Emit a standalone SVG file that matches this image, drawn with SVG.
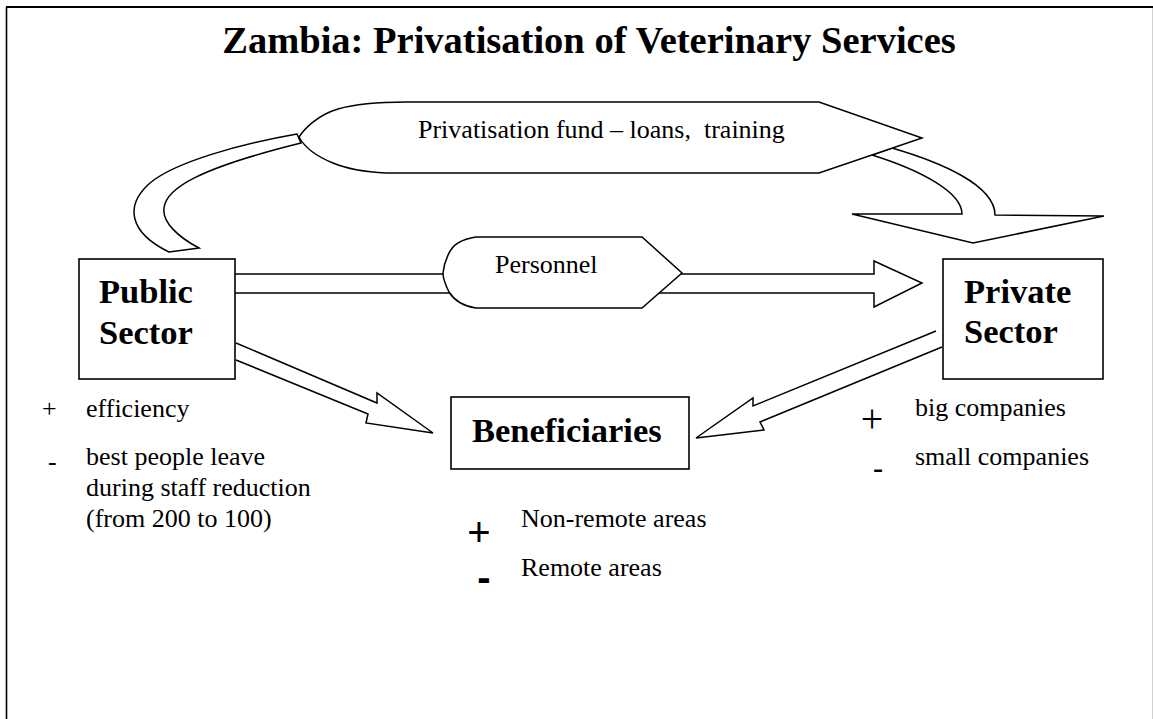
<svg xmlns="http://www.w3.org/2000/svg" width="1153" height="719" viewBox="0 0 1153 719">
<style>
.shape{fill:#fff;stroke:#000;stroke-width:1.5;stroke-linejoin:miter}
.box{fill:#fff;stroke:#000;stroke-width:1.6}
.t{font-family:"Liberation Serif","Times New Roman",serif;fill:#000}
.reg{font-size:26px;white-space:pre}
.bold{font-size:34.5px;font-weight:bold}
.sans{font-family:"Liberation Sans",Arial,sans-serif;fill:#000}
</style>
<rect width="1153" height="719" fill="#fff"/>
<g id="frame">
<line x1="6.5" y1="7" x2="6.5" y2="719" stroke="#000" stroke-width="1.6"/>
<line x1="6" y1="7" x2="1153" y2="7" stroke="#000" stroke-width="2"/>
<line x1="1152.5" y1="8" x2="1152.5" y2="719" stroke="#d0d0d0" stroke-width="1"/>
</g>
<text id="title" class="t" x="589" y="53" font-size="38.5" font-weight="bold" text-anchor="middle">Zambia: Privatisation of Veterinary Services</text>
<g id="connectors">
<path id="fund-tail-left" class="shape" d="M297,134 C240,144 175,162 150,183 C125,205 128,232 169,252 L199,248 C178,237 162,222 164,208 C166,188 200,168 301,143 Z"/>
<path id="fund-tail-right" class="shape" d="M872,155 C920,170 962,192 962,214 L852,214 L973,243 L1104,216 L995,215 C995,185 940,162 892,148 Z"/>
<path id="personnel-arrow" class="shape" d="M235,274 L874,274 L874,261 L922,283 L874,307 L874,293 L235,293"/>
<path id="public-to-beneficiaries" class="shape" d="M236,343 L377,403 L377,393 L433,433 L366,423 L368,414 L236,360"/>
<path id="private-to-beneficiaries" class="shape" d="M936,331 L753,406 L753,398 L696,438 L764,430 L760,422 L942,347"/>
</g>
<g id="fund">
<path class="shape" d="M299,137 C305,128 318,115 338,109 C355,104 380,102 406,102 L819,102 L922,138 L819,173 L386,173 C365,172 345,168 333,163 C318,157 305,148 299,137 Z"/>
<text class="t reg" x="418" y="138">Privatisation fund – loans,  training</text>
</g>
<g id="personnel">
<path class="shape" d="M476,237 L642,237 L682,273 L642,308 L476,308 C462,306 454,300 449,292 C446,286 443,280 443,273 C444,262 450,247 458,243 C463,240 469,238 476,237 Z"/>
<text class="t reg" x="495" y="273">Personnel</text>
</g>
<g id="public-sector">
<rect class="box" x="79" y="259" width="156" height="120"/>
<text class="t bold" x="99" y="303">Public</text>
<text class="t bold" x="99" y="344">Sector</text>
</g>
<g id="private-sector">
<rect class="box" x="943" y="259" width="160" height="120"/>
<text class="t bold" x="964" y="303">Private</text>
<text class="t bold" x="964" y="343">Sector</text>
</g>
<g id="beneficiaries">
<rect class="box" x="451" y="397" width="238" height="72"/>
<text class="t bold" x="472" y="442">Beneficiaries</text>
</g>
<g id="public-notes">
<text class="t reg" x="42" y="417">+</text>
<text class="t reg" x="86" y="417">efficiency</text>
<text class="t reg" x="48" y="470">-</text>
<text class="t reg" x="86" y="465">best people leave</text>
<text class="t reg" x="86" y="496">during staff reduction</text>
<text class="t reg" x="86" y="527">(from 200 to 100)</text>
</g>
<g id="private-notes">
<text class="t" x="872" y="432" font-size="40" text-anchor="middle">+</text>
<text class="sans" x="878" y="479" font-size="32" text-anchor="middle">-</text>
<text class="t reg" x="915" y="416">big companies</text>
<text class="t reg" x="915" y="465">small companies</text>
</g>
<g id="beneficiary-notes">
<text class="sans" x="479" y="546" font-size="40" text-anchor="middle">+</text>
<text class="sans" x="484" y="591" font-size="40" font-weight="bold" text-anchor="middle">-</text>
<text class="t reg" x="521" y="527">Non-remote areas</text>
<text class="t reg" x="521" y="576">Remote areas</text>
</g>
</svg>
